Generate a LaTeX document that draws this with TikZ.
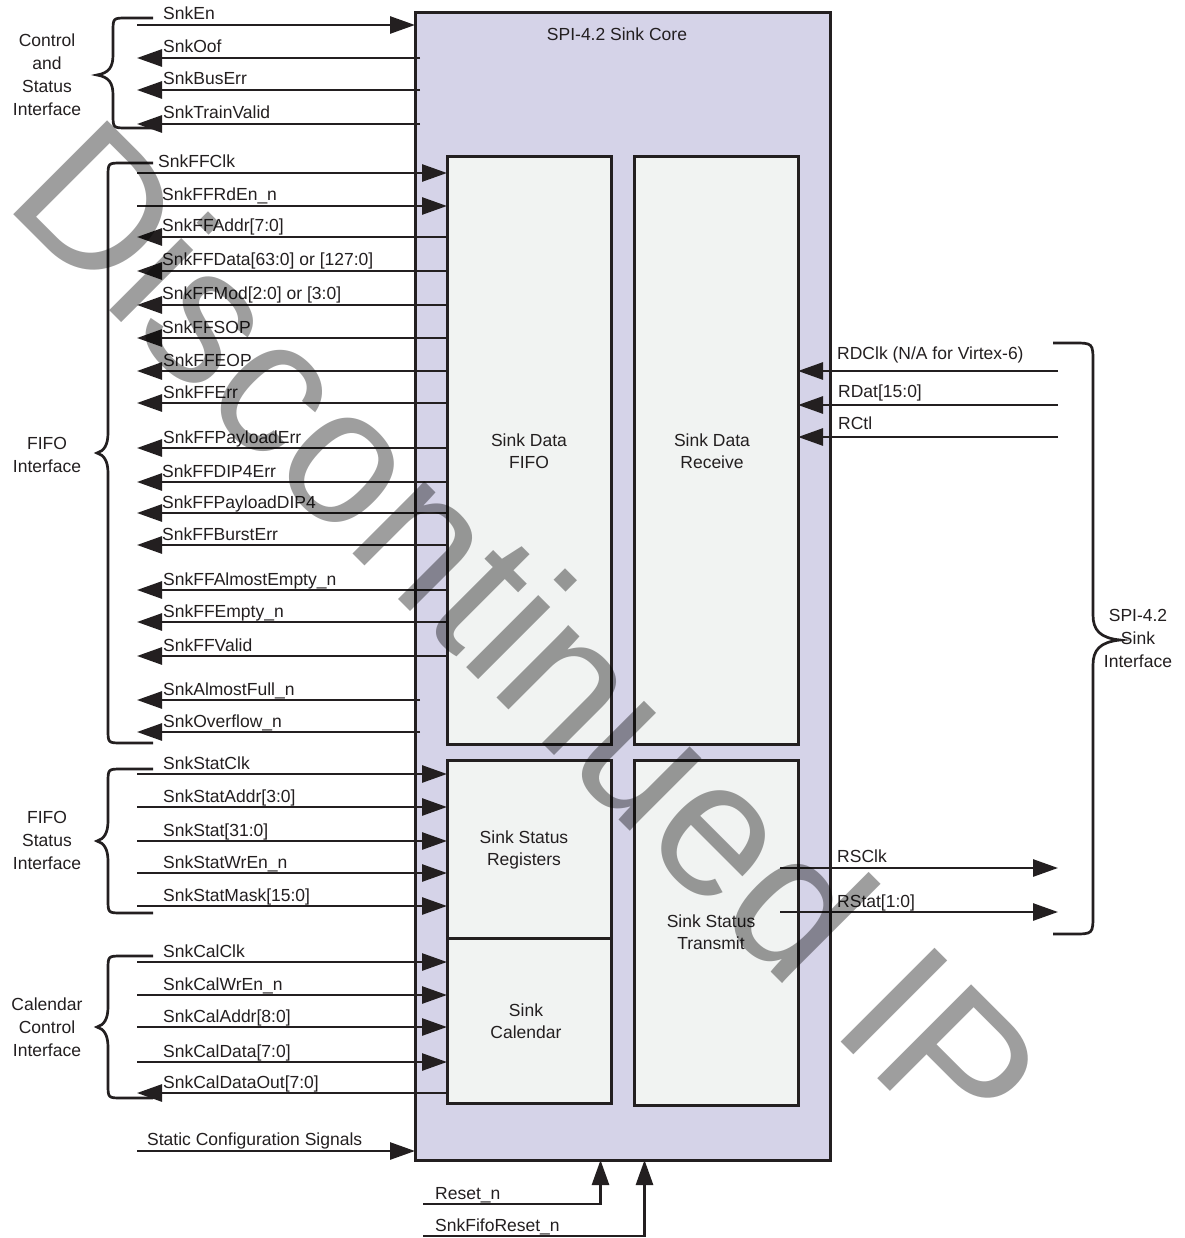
\documentclass[tikz,border=0pt]{standalone}
\usepackage{fontspec}
\setmainfont{Liberation Sans}
\usetikzlibrary{arrows.meta,calc}
\definecolor{ink}{HTML}{231F20}
\definecolor{lav}{HTML}{D5D3E8}
\definecolor{inbox}{HTML}{F1F3F2}
\newcommand\SigIn[5]{\coordinate (#1) at (137,#2); \node[sl] (#1l) at (#5,{#2-5}) {#4}; \draw[sig] (#1) -- (#1 -| #3);}
\newcommand\SigOut[5]{\coordinate (#1) at (137,#2); \node[sl] (#1l) at (#5,{#2-5}) {#4}; \draw[sig] (#1 -| #3) -- (#1);}
\newcommand\BraceL[5]{\draw[brc] (153,#3) -- ({#1+14},#3) .. controls (#1,#3) .. (#1,{#3+14}) -- (#1,{#4-20}) .. controls (#1,{#4-8}) and ({#1-4},{#4-2}) .. (#2,#4) .. controls ({#1-4},{#4+2}) and (#1,{#4+8}) .. (#1,{#4+20}) -- (#1,{#5-14}) .. controls (#1,#5) .. ({#1+14},#5) -- (153,#5);}
\begin{document}
\begin{tikzpicture}[x=1pt,y=-1pt,
 every node/.style={font=\fontsize{17.5}{22}\selectfont, text=ink},
 sig/.style={line width=2.7pt, draw=ink, -{Triangle[length=25pt,width=17pt]}},
 brc/.style={line width=2.7pt, draw=ink},
 corebox/.style={draw=ink, line width=3pt, fill=lav, anchor=north west, inner sep=0, outer sep=0},
 blk/.style={draw=ink, line width=3pt, fill=inbox, anchor=north west, inner sep=0, outer sep=0},
 sl/.style={anchor=base west, inner sep=0},
 grp/.style={align=center, inner sep=0, font=\fontsize{17.5}{23}\selectfont},
 inl/.style={align=center, inner sep=0, font=\fontsize{17.5}{22}\selectfont},
]
\useasboundingbox (0,0) rectangle (1184,1238);
\fill[white] (0,0) rectangle (1184,1238);
% boxes
\node[corebox, minimum width=415pt, minimum height=1147pt] (core) at (415,13) {};
\node[blk, minimum width=164pt, minimum height=587pt] (fifo) at (447,157) {};
\node[blk, minimum width=164pt, minimum height=587pt] (recv) at (634,157) {};
\node[blk, minimum width=164pt, minimum height=178pt] (statreg) at (447,760) {};
\node[blk, minimum width=164pt, minimum height=165pt] (cal) at (447,938) {};
\node[blk, minimum width=164pt, minimum height=345pt] (stattx) at (634,760) {};
\coordinate (cin) at ($(core.west)+(5,0)$);
% box labels
\node (title) at (617,34) {SPI-4.2 Sink Core};
\node[inl] (t1) at (529,451) {Sink Data\\FIFO};
\node[inl] (t2) at (712,451) {Sink Data\\Receive};
\node[inl] (t3) at (524,849.5) {Sink Status\\Registers};
\node[inl] (t4) at (711,932) {Sink Status\\Transmit};
\node[inl] (t5) at (526,1021.5) {Sink\\Calendar};
% group labels
\node[grp] (g1) at (47,74.5) {Control\\and\\Status\\Interface};
\node[grp] (g2) at (47,455) {FIFO\\Interface};
\node[grp] (g3) at (47,840) {FIFO\\Status\\Interface};
\node[grp] (g4) at (47,1027) {Calendar\\Control\\Interface};
\node[grp] (g5) at (1138,638) {SPI-4.2\\Sink\\Interface};
% braces
\BraceL{113}{97}{18}{75}{128}
\BraceL{108}{97}{163}{453}{743}
\BraceL{108}{97}{769}{841}{913}
\BraceL{108}{97}{956}{1027}{1098}
\draw[brc] (1053,343) -- (1073,343) .. controls (1093,343) .. (1093,363) -- (1093,615) .. controls (1093,630) and (1100,638) .. (1120,640) .. controls (1100,642) and (1093,650) .. (1093,665) -- (1093,914) .. controls (1093,934) .. (1073,934) -- (1053,934);
% control and status
\SigIn{snken}{25}{core.west}{SnkEn}{163}
\SigOut{snkoof}{58}{cin}{SnkOof}{163}
\SigOut{snkbuserr}{90}{cin}{SnkBusErr}{163}
\SigOut{snktrain}{124}{cin}{SnkTrainValid}{163}
% fifo
\SigIn{ffclk}{173}{fifo.west}{SnkFFClk}{158}
\SigIn{ffrden}{206}{fifo.west}{SnkFFRdEn\_n}{162}
\SigOut{ffaddr}{237}{fifo.west}{SnkFFAddr[7:0]}{162}
\SigOut{ffdata}{271}{fifo.west}{SnkFFData[63:0] or [127:0]}{162}
\SigOut{ffmod}{305}{fifo.west}{SnkFFMod[2:0] or [3:0]}{162}
\SigOut{ffsop}{338}{fifo.west}{SnkFFSOP}{162}
\SigOut{ffeop}{371}{fifo.west}{SnkFFEOP}{163}
\SigOut{fferr}{403}{fifo.west}{SnkFFErr}{163}
\SigOut{ffplerr}{448}{fifo.west}{SnkFFPayloadErr}{163}
\SigOut{ffdip}{482}{fifo.west}{SnkFFDIP4Err}{162}
\SigOut{ffpldip}{513}{fifo.west}{SnkFFPayloadDIP4}{162}
\SigOut{ffburst}{545}{fifo.west}{SnkFFBurstErr}{162}
\SigOut{ffae}{590}{fifo.west}{SnkFFAlmostEmpty\_n}{163}
\SigOut{ffempty}{622}{fifo.west}{SnkFFEmpty\_n}{163}
\SigOut{ffvalid}{656}{fifo.west}{SnkFFValid}{163}
\SigOut{afull}{700}{cin}{SnkAlmostFull\_n}{163}
\SigOut{ovfl}{732}{cin}{SnkOverflow\_n}{163}
% fifo status
\SigIn{stclk}{774}{statreg.west}{SnkStatClk}{163}
\SigIn{staddr}{807}{statreg.west}{SnkStatAddr[3:0]}{163}
\SigIn{stat}{841}{statreg.west}{SnkStat[31:0]}{163}
\SigIn{stwren}{873}{statreg.west}{SnkStatWrEn\_n}{163}
\SigIn{stmask}{906}{statreg.west}{SnkStatMask[15:0]}{163}
% calendar
\SigIn{calclk}{962}{cal.west}{SnkCalClk}{163}
\SigIn{calwren}{995}{cal.west}{SnkCalWrEn\_n}{163}
\SigIn{caladdr}{1027}{cal.west}{SnkCalAddr[8:0]}{163}
\SigIn{caldata}{1062}{cal.west}{SnkCalData[7:0]}{163}
\SigOut{caldout}{1093}{cal.west}{SnkCalDataOut[7:0]}{163}
% static
\coordinate (static) at (137,1151);
\node[sl] (staticl) at (147,1145) {Static Configuration Signals};
\draw[sig] (static) -- (static -| core.west);
% resets
\coordinate (rst) at (423,1204);
\node[sl] (rstl) at (435,1199) {Reset\_n};
\draw[sig] (rst) -| ($(core.south)+(-22,0)$);
\coordinate (frst) at (423,1236);
\node[sl] (frstl) at (435,1231) {SnkFifoReset\_n};
\draw[sig] (frst) -| ($(core.south)+(22,0)$);
% right side
\coordinate (rdclk) at (1058,371);
\node[sl] (rdclkl) at (837,359) {RDClk (N/A for Virtex-6)};
\draw[sig] (rdclk) -- (rdclk -| recv.east);
\coordinate (rdat) at (1058,405);
\node[sl] (rdatl) at (838,397) {RDat[15:0]};
\draw[sig] (rdat) -- (rdat -| recv.east);
\coordinate (rctl) at (1058,437);
\node[sl] (rctll) at (838,429) {RCtl};
\draw[sig] (rctl) -- (rctl -| recv.east);
\coordinate (rsclk) at (1058,868);
\node[sl] (rsclkl) at (837,862) {RSClk};
\draw[sig] ($(stattx.east |- rsclk)+(-18,0)$) -- (rsclk);
\coordinate (rstat) at (1058,912);
\node[sl] (rstatl) at (837,907) {RStat[1:0]};
\draw[sig] ($(stattx.east |- rstat)+(-18,0)$) -- (rstat);
% watermark
\node[inner sep=0, anchor=base, rotate=-45, font=\fontsize{193}{193}\selectfont, text=black, text opacity=0.38] (wm) at (480,681) {Discontinued IP};
\end{tikzpicture}
\end{document}
